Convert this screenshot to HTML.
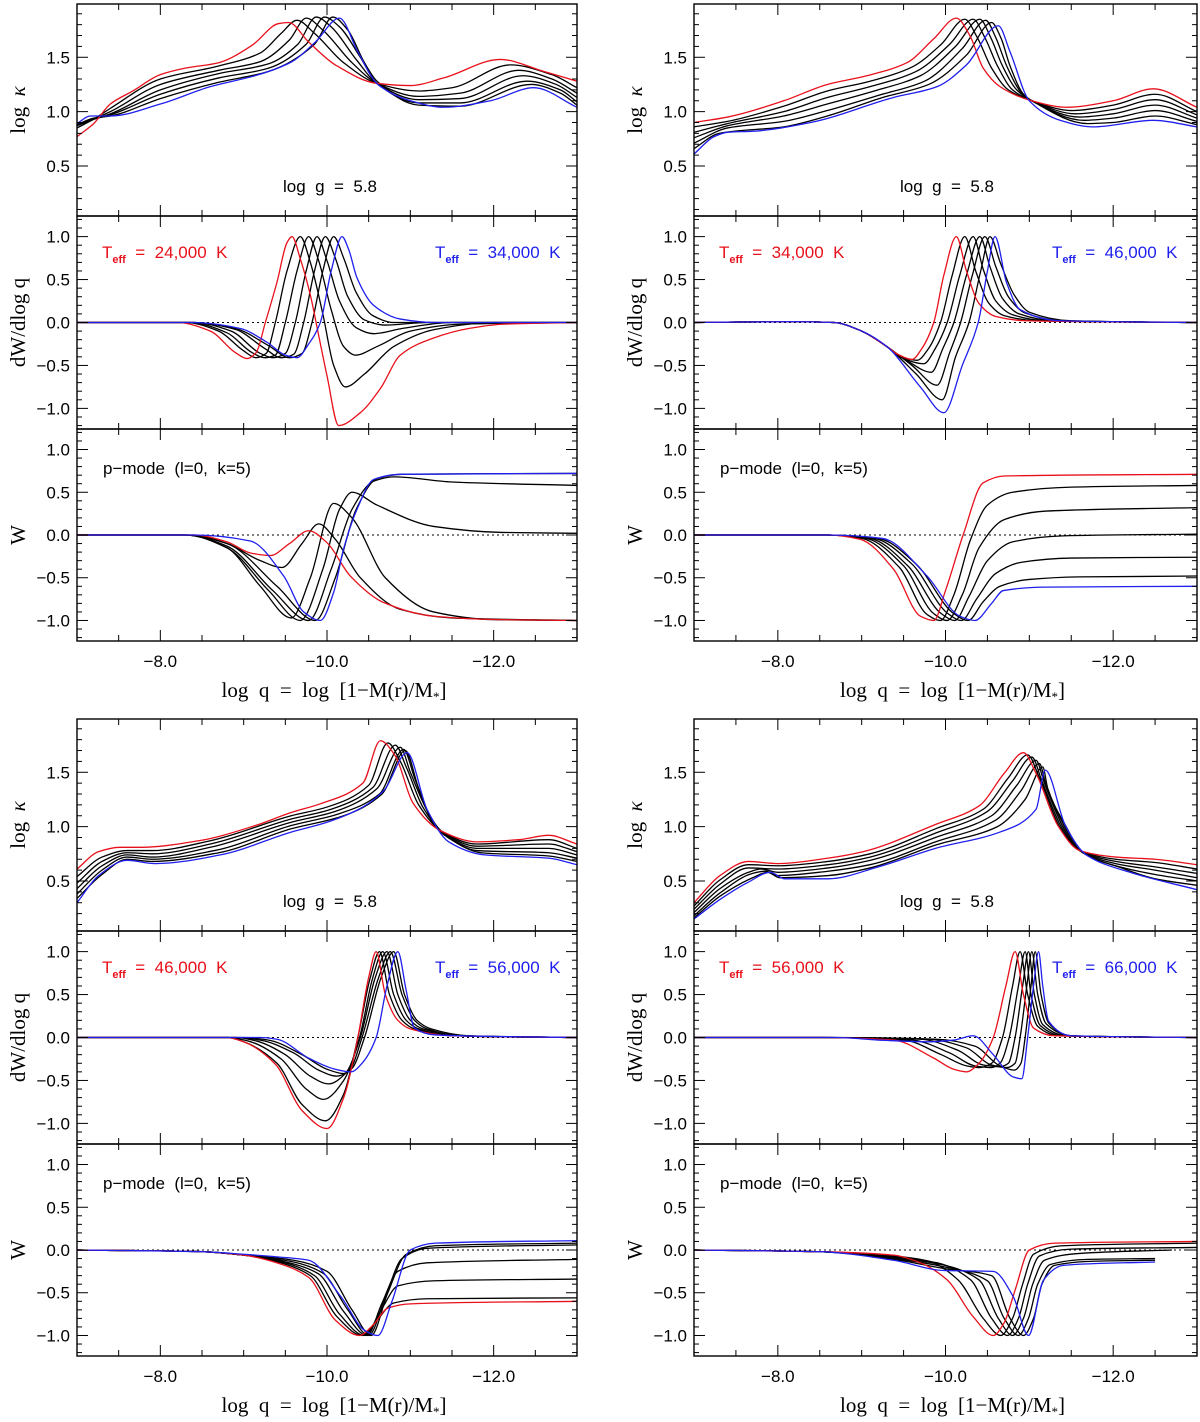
<!DOCTYPE html>
<html><head><meta charset="utf-8"><style>
html,body{margin:0;padding:0;background:#fff}
svg{display:block}
svg text{white-space:pre}
.tk{font-family:"Liberation Sans",sans-serif;font-size:17px;fill:#000}
.ttl{font-family:"Liberation Serif",serif;font-size:21px;fill:#000}
.ann{font-family:"Liberation Sans",sans-serif;font-size:17px}
</style></head><body>
<svg id="fig" width="1200" height="1422" viewBox="0 0 1200 1422" xmlns="http://www.w3.org/2000/svg"></svg>
<script>
// ---------- DATA (log q, value) pairs ----------
// Top-left quadrant (24,000 K -> 34,000 K)
const tlKappa_red=[[-7,.77],[-7.2,.89],[-7.4,1.07],[-7.67,1.19],[-8,1.34],[-8.3,1.4],[-8.7,1.45],[-9.1,1.61],[-9.42,1.81],[-9.54,1.82],[-9.78,1.64],[-10.1,1.43],[-10.6,1.26],[-11,1.24],[-11.4,1.31],[-12.08,1.48],[-12.6,1.37],[-13,1.28]];
const tlKappa_k1=[[-7,.85],[-7.2,.93],[-7.4,1.03],[-8,1.30],[-8.7,1.42],[-9.2,1.54],[-9.45,1.72],[-9.64,1.84],[-9.85,1.72],[-10.2,1.45],[-10.6,1.26],[-11.1,1.19],[-11.5,1.22],[-12.2,1.43],[-12.7,1.34],[-13,1.22]];
const tlKappa_k2=[[-7,.87],[-7.2,.93],[-7.4,1.0],[-8,1.25],[-8.7,1.38],[-9.2,1.46],[-9.55,1.66],[-9.75,1.86],[-9.95,1.75],[-10.3,1.45],[-10.6,1.26],[-11.1,1.14],[-11.6,1.17],[-12.3,1.38],[-12.7,1.3],[-13,1.17]];
const tlKappa_k3=[[-7,.88],[-7.2,.93],[-7.4,.98],[-8,1.2],[-8.7,1.35],[-9.3,1.44],[-9.65,1.62],[-9.87,1.87],[-10.05,1.78],[-10.35,1.48],[-10.6,1.26],[-11.1,1.11],[-11.6,1.12],[-12.35,1.33],[-12.75,1.25],[-13,1.13]];
const tlKappa_k4=[[-7,.88],[-7.2,.93],[-7.4,.97],[-8,1.16],[-8.7,1.31],[-9.3,1.4],[-9.75,1.62],[-9.97,1.87],[-10.15,1.78],[-10.4,1.5],[-10.6,1.26],[-11.1,1.08],[-11.6,1.08],[-12.4,1.28],[-12.8,1.2],[-13,1.09]];
const tlKappa_k5=[[-7,.88],[-7.2,.94],[-7.4,.96],[-8,1.12],[-8.7,1.27],[-9.3,1.37],[-9.85,1.62],[-10.07,1.87],[-10.25,1.75],[-10.45,1.45],[-10.6,1.28],[-11.1,1.06],[-11.6,1.05],[-12.45,1.25],[-12.8,1.17],[-13,1.06]];
const tlKappa_blue=[[-7,.89],[-7.16,.96],[-7.4,.96],[-8,1.07],[-8.6,1.23],[-9.18,1.34],[-9.58,1.46],[-9.86,1.64],[-10.15,1.86],[-10.37,1.55],[-10.61,1.25],[-11,1.1],[-11.4,1.04],[-11.96,1.1],[-12.48,1.22],[-13,1.04]];

const tlDW_red=[[-7,0],[-8.2,0],[-8.6,-.1],[-8.9,-.35],[-9.04,-.42],[-9.15,-.35],[-9.26,0],[-9.4,.47],[-9.52,.93],[-9.58,1.0],[-9.68,.74],[-9.8,.32],[-9.9,-.15],[-10.0,-.62],[-10.14,-1.2],[-10.4,-1.05],[-10.64,-.77],[-10.88,-.38],[-11.28,-.18],[-11.7,-.07],[-12.1,-.02],[-13,0]];
const tlDW_k1=[[-7,0],[-8.3,0],[-8.7,-.1],[-9.0,-.33],[-9.15,-.41],[-9.27,-.36],[-9.38,0],[-9.52,.6],[-9.68,1.0],[-9.8,.7],[-9.95,.1],[-10.08,-.5],[-10.22,-.75],[-10.45,-.6],[-10.8,-.28],[-11.3,-.08],[-12,0],[-13,0]];
const tlDW_k2=[[-7,0],[-8.35,0],[-8.8,-.12],[-9.1,-.35],[-9.25,-.41],[-9.38,-.38],[-9.5,0],[-9.64,.6],[-9.78,1.0],[-9.9,.72],[-10.05,.15],[-10.2,-.28],[-10.34,-.38],[-10.6,-.28],[-11,-.1],[-11.6,-.02],[-13,0]];
const tlDW_k3=[[-7,0],[-8.4,0],[-8.85,-.1],[-9.2,-.36],[-9.35,-.41],[-9.5,-.36],[-9.62,0],[-9.75,.6],[-9.88,1.0],[-10.0,.72],[-10.15,.25],[-10.35,-.06],[-10.56,-.13],[-10.9,-.07],[-11.5,0],[-13,0]];
const tlDW_k4=[[-7,0],[-8.4,0],[-8.9,-.08],[-9.25,-.3],[-9.45,-.41],[-9.6,-.37],[-9.72,0],[-9.85,.6],[-9.98,1.0],[-10.1,.75],[-10.25,.3],[-10.45,.03],[-10.7,-.03],[-11.2,0],[-13,0]];
const tlDW_k5=[[-7,0],[-8.4,0],[-8.9,-.07],[-9.3,-.27],[-9.55,-.41],[-9.7,-.36],[-9.82,0],[-9.95,.6],[-10.08,1.0],[-10.2,.75],[-10.35,.35],[-10.55,.08],[-10.8,0],[-13,0]];
const tlDW_blue=[[-7,0],[-8.4,0],[-8.96,-.07],[-9.28,-.23],[-9.5,-.38],[-9.64,-.41],[-9.78,-.25],[-9.92,0],[-10.05,.6],[-10.18,1.0],[-10.26,.85],[-10.36,.52],[-10.56,.2],[-10.88,.04],[-11.3,0],[-13,0]];

const tlW_red=[[-7,0],[-8.4,0],[-8.8,-.08],[-9.08,-.21],[-9.32,-.24],[-9.55,-.1],[-9.78,.05],[-10.0,-.09],[-10.28,-.48],[-10.68,-.79],[-11.28,-.95],[-12.08,-.99],[-13,-1.0]];
const tlW_k1=[[-7,0],[-8.4,0],[-8.8,-.1],[-9.2,-.3],[-9.46,-.38],[-9.7,-.1],[-9.9,.13],[-10.1,-.05],[-10.4,-.5],[-10.88,-.87],[-11.5,-.97],[-13,-1.0]];
const tlW_k2=[[-7,0],[-8.3,0],[-8.8,-.15],[-9.2,-.6],[-9.57,-.97],[-9.8,-.5],[-10.08,.37],[-10.3,.2],[-10.7,-.5],[-11.28,-.9],[-12,-.99],[-13,-1.0]];
const tlW_k3=[[-7,0],[-8.3,0],[-8.8,-.15],[-9.3,-.65],[-9.68,-1.0],[-9.95,-.4],[-10.15,.3],[-10.3,.5],[-10.6,.35],[-11.28,.1],[-12.1,.03],[-13,.02]];
const tlW_k4=[[-7,0],[-8.3,0],[-8.8,-.13],[-9.35,-.65],[-9.78,-1.0],[-10.05,-.4],[-10.3,.3],[-10.56,.63],[-10.8,.68],[-11.5,.62],[-13,.58]];
const tlW_k5=[[-7,0],[-8.3,0],[-8.8,-.1],[-9.4,-.6],[-9.86,-1.0],[-10.1,-.5],[-10.35,.3],[-10.6,.66],[-10.9,.71],[-13,.72]];
const tlW_blue=[[-7,0],[-8.4,0],[-9.08,-.07],[-9.48,-.48],[-9.72,-.9],[-9.92,-1.0],[-10.08,-.67],[-10.2,-.16],[-10.36,.3],[-10.56,.65],[-10.88,.71],[-13,.72]];

// Top-right quadrant (34,000 K -> 46,000 K)
const trKappa_red=[[-7,.90],[-7.4,.95],[-8.07,1.1],[-8.59,1.25],[-9.06,1.33],[-9.54,1.45],[-9.86,1.67],[-10.13,1.86],[-10.29,1.7],[-10.45,1.4],[-10.65,1.23],[-11.03,1.1],[-11.44,1.04],[-12.0,1.1],[-12.48,1.21],[-13,1.04]];
const trKappa_k1=[[-7,.86],[-7.4,.91],[-8.07,1.05],[-8.59,1.19],[-9.1,1.28],[-9.6,1.41],[-9.95,1.62],[-10.23,1.85],[-10.38,1.68],[-10.55,1.4],[-10.75,1.2],[-11.03,1.1],[-11.5,1.01],[-12.0,1.06],[-12.5,1.16],[-13,1.0]];
const trKappa_k2=[[-7,.81],[-7.4,.89],[-8.07,1.0],[-8.59,1.13],[-9.1,1.23],[-9.65,1.37],[-10.05,1.62],[-10.33,1.85],[-10.47,1.68],[-10.62,1.42],[-10.8,1.2],[-11.03,1.1],[-11.55,.98],[-12.0,1.02],[-12.5,1.11],[-13,.97]];
const trKappa_k3=[[-7,.76],[-7.4,.87],[-8.07,.96],[-8.59,1.07],[-9.15,1.19],[-9.7,1.33],[-10.12,1.6],[-10.41,1.85],[-10.54,1.68],[-10.68,1.42],[-10.85,1.2],[-11.03,1.1],[-11.6,.95],[-12.0,.98],[-12.5,1.06],[-13,.94]];
const trKappa_k4=[[-7,.71],[-7.4,.85],[-8.07,.91],[-8.59,1.01],[-9.2,1.15],[-9.75,1.28],[-10.2,1.58],[-10.48,1.84],[-10.6,1.68],[-10.73,1.42],[-10.9,1.18],[-11.03,1.1],[-11.65,.92],[-12.0,.94],[-12.5,1.01],[-13,.91]];
const trKappa_k5=[[-7,.66],[-7.3,.8],[-8.07,.86],[-8.59,.96],[-9.25,1.13],[-9.8,1.25],[-10.25,1.52],[-10.55,1.82],[-10.66,1.68],[-10.77,1.42],[-10.93,1.16],[-11.03,1.1],[-11.7,.89],[-12.0,.9],[-12.5,.96],[-13,.88]];
const trKappa_blue=[[-7,.61],[-7.24,.77],[-7.4,.81],[-7.71,.82],[-8.39,.9],[-9.38,1.13],[-9.9,1.23],[-10.25,1.43],[-10.63,1.79],[-10.77,1.55],[-11.0,1.1],[-11.37,.92],[-11.76,.86],[-12.48,.92],[-13,.86]];

const trDW_red=[[-7,0],[-8.2,.01],[-8.67,0],[-9.0,-.1],[-9.3,-.28],[-9.45,-.38],[-9.6,-.43],[-9.72,-.3],[-9.86,0],[-9.98,.55],[-10.13,1.0],[-10.25,.6],[-10.4,.22],[-10.6,.07],[-10.97,.02],[-13,0]];
const trDW_k1=[[-7,0],[-8.2,.01],[-8.67,0],[-9.0,-.1],[-9.3,-.28],[-9.45,-.39],[-9.66,-.44],[-9.8,-.3],[-9.94,0],[-10.08,.55],[-10.23,1.0],[-10.36,.6],[-10.52,.22],[-10.7,.08],[-11.1,.02],[-13,0]];
const trDW_k2=[[-7,0],[-8.2,.01],[-8.67,0],[-9.0,-.1],[-9.3,-.28],[-9.5,-.42],[-9.74,-.48],[-9.88,-.3],[-10.02,0],[-10.17,.55],[-10.33,1.0],[-10.45,.62],[-10.6,.25],[-10.8,.09],[-11.2,.02],[-13,0]];
const trDW_k3=[[-7,0],[-8.2,.01],[-8.67,0],[-9.0,-.1],[-9.3,-.28],[-9.55,-.45],[-9.83,-.58],[-9.97,-.3],[-10.1,0],[-10.25,.55],[-10.41,1.0],[-10.53,.65],[-10.68,.28],[-10.88,.1],[-11.3,.02],[-13,0]];
const trDW_k4=[[-7,0],[-8.2,.01],[-8.67,0],[-9.0,-.1],[-9.3,-.28],[-9.6,-.5],[-9.9,-.73],[-10.05,-.35],[-10.18,0],[-10.32,.55],[-10.47,1.0],[-10.6,.65],[-10.75,.3],[-10.95,.11],[-11.4,.02],[-13,0]];
const trDW_k5=[[-7,0],[-8.2,.01],[-8.67,0],[-9.0,-.1],[-9.3,-.28],[-9.65,-.6],[-9.96,-.9],[-10.12,-.4],[-10.28,0],[-10.42,.6],[-10.53,1.0],[-10.66,.68],[-10.82,.32],[-11.0,.12],[-11.5,.02],[-13,0]];
const trDW_blue=[[-7,0],[-8.2,.01],[-8.67,0],[-9.0,-.1],[-9.3,-.28],[-9.7,-.75],[-9.98,-1.05],[-10.2,-.5],[-10.39,0],[-10.5,.6],[-10.59,1.0],[-10.73,.46],[-10.89,.15],[-11.37,.02],[-13,0]];

const trW_red=[[-7,0],[-8.6,0],[-8.98,-.05],[-9.38,-.4],[-9.7,-.95],[-9.86,-1.0],[-10.0,-.65],[-10.21,0],[-10.45,.61],[-10.7,.69],[-13,.71]];
const trW_k1=[[-7,0],[-8.6,0],[-9.0,-.04],[-9.45,-.38],[-9.78,-.93],[-9.94,-1.0],[-10.1,-.7],[-10.3,-.05],[-10.5,.35],[-10.8,.5],[-11.5,.56],[-13,.58]];
const trW_k2=[[-7,0],[-8.6,0],[-9.05,-.04],[-9.5,-.36],[-9.86,-.92],[-10.02,-1.0],[-10.2,-.7],[-10.4,-.15],[-10.7,.18],[-11.2,.28],[-13,.32]];
const trW_k3=[[-7,0],[-8.6,0],[-9.1,-.04],[-9.55,-.36],[-9.95,-.92],[-10.11,-1.0],[-10.28,-.72],[-10.5,-.3],[-10.8,-.08],[-11.4,-.01],[-13,.01]];
const trW_k4=[[-7,0],[-8.6,0],[-9.15,-.04],[-9.6,-.34],[-10.03,-.92],[-10.19,-1.0],[-10.37,-.75],[-10.6,-.45],[-10.9,-.32],[-11.5,-.27],[-13,-.26]];
const trW_k5=[[-7,0],[-8.6,0],[-9.2,-.04],[-9.65,-.34],[-10.1,-.92],[-10.27,-1.0],[-10.45,-.78],[-10.65,-.6],[-11.0,-.52],[-11.6,-.49],[-13,-.48]];
const trW_blue=[[-7,0],[-8.6,0],[-9.25,-.04],[-9.78,-.48],[-10.17,-.95],[-10.35,-1.0],[-10.55,-.8],[-10.69,-.65],[-11.2,-.61],[-13,-.6]];

// Bottom-left quadrant (46,000 K -> 56,000 K)
const blKappa_red=[[-7,.61],[-7.26,.77],[-7.51,.81],[-7.77,.81],[-8.46,.87],[-9.14,1.01],[-9.57,1.13],[-9.92,1.21],[-10.43,1.40],[-10.64,1.79],[-10.82,1.65],[-11.03,1.22],[-11.37,.96],[-11.8,.86],[-12.3,.88],[-12.66,.92],[-13,.84]];
const blKappa_k1=[[-7,.54],[-7.3,.72],[-7.6,.78],[-7.9,.78],[-8.6,.87],[-9.57,1.10],[-10.0,1.18],[-10.5,1.38],[-10.73,1.77],[-10.88,1.6],[-11.1,1.2],[-11.37,.96],[-11.8,.84],[-12.66,.88],[-13,.80]];
const blKappa_k2=[[-7,.48],[-7.3,.68],[-7.6,.76],[-7.9,.75],[-8.6,.84],[-9.57,1.07],[-10.05,1.16],[-10.55,1.36],[-10.82,1.75],[-10.95,1.55],[-11.15,1.18],[-11.37,.96],[-11.8,.82],[-12.66,.84],[-13,.77]];
const blKappa_k3=[[-7,.43],[-7.3,.64],[-7.6,.74],[-7.9,.72],[-8.6,.81],[-9.57,1.04],[-10.1,1.14],[-10.6,1.35],[-10.88,1.73],[-11.0,1.5],[-11.2,1.15],[-11.37,.96],[-11.8,.80],[-12.66,.80],[-13,.74]];
const blKappa_k4=[[-7,.38],[-7.3,.6],[-7.6,.72],[-7.9,.7],[-8.65,.78],[-9.57,1.01],[-10.15,1.12],[-10.63,1.3],[-10.92,1.71],[-11.05,1.45],[-11.22,1.12],[-11.37,.96],[-11.8,.78],[-12.66,.76],[-13,.71]];
const blKappa_k5=[[-7,.34],[-7.3,.56],[-7.6,.70],[-7.9,.68],[-8.7,.76],[-9.57,.98],[-10.2,1.1],[-10.66,1.3],[-10.94,1.70],[-11.1,1.35],[-11.3,1.0],[-11.45,.9],[-11.85,.76],[-12.66,.73],[-13,.68]];
const blKappa_blue=[[-7,.30],[-7.26,.55],[-7.6,.69],[-7.94,.66],[-8.72,.74],[-9.57,.95],[-10,1.04],[-10.43,1.18],[-10.69,1.34],[-10.96,1.68],[-11.2,1.16],[-11.46,.86],[-11.89,.74],[-12.66,.71],[-13,.65]];

const blDW_red=[[-7,0],[-8.8,0],[-9.0,-.05],[-9.38,-.31],[-9.7,-.85],[-10.0,-1.06],[-10.2,-.7],[-10.37,0],[-10.5,.7],[-10.59,1.0],[-10.7,.5],[-10.85,.2],[-11.0,.1],[-11.5,.02],[-13,0]];
const blDW_k1=[[-7,0],[-8.8,0],[-9.0,-.05],[-9.4,-.3],[-9.7,-.78],[-9.98,-.97],[-10.2,-.66],[-10.37,0],[-10.52,.7],[-10.63,1.0],[-10.75,.5],[-10.9,.2],[-11.05,.1],[-11.5,.02],[-13,0]];
const blDW_k2=[[-7,0],[-8.8,0],[-9.05,-.04],[-9.45,-.25],[-9.75,-.6],[-9.96,-.72],[-10.2,-.5],[-10.39,0],[-10.55,.7],[-10.67,1.0],[-10.8,.5],[-10.95,.2],[-11.1,.1],[-11.5,.02],[-13,0]];
const blDW_k3=[[-7,0],[-8.9,0],[-9.15,-.04],[-9.5,-.2],[-9.8,-.45],[-10.02,-.54],[-10.22,-.42],[-10.4,0],[-10.58,.7],[-10.72,1.0],[-10.85,.5],[-11.0,.2],[-11.15,.1],[-11.6,.02],[-13,0]];
const blDW_k4=[[-7,0],[-8.9,0],[-9.2,-.03],[-9.6,-.18],[-9.9,-.38],[-10.12,-.45],[-10.27,-.38],[-10.42,0],[-10.62,.7],[-10.76,1.0],[-10.9,.5],[-11.05,.2],[-11.2,.1],[-11.6,.02],[-13,0]];
const blDW_k5=[[-7,0],[-9.0,0],[-9.3,-.03],[-9.7,-.2],[-10.0,-.37],[-10.2,-.42],[-10.3,-.36],[-10.45,0],[-10.65,.7],[-10.8,1.0],[-10.93,.5],[-11.08,.2],[-11.25,.1],[-11.7,.02],[-13,0]];
const blDW_blue=[[-7,0],[-9.2,0],[-9.4,-.02],[-9.78,-.24],[-10.1,-.37],[-10.29,-.40],[-10.42,-.3],[-10.59,0],[-10.72,.6],[-10.85,1.0],[-10.95,.55],[-11.05,.11],[-11.3,.03],[-13,0]];

const blW_red=[[-7,0],[-8.5,-.02],[-9.0,-.06],[-9.4,-.15],[-9.78,-.32],[-10.1,-.82],[-10.39,-1.0],[-10.55,-.88],[-10.73,-.68],[-11,-.63],[-13,-.60]];
const blW_k1=[[-7,0],[-8.5,-.02],[-9.0,-.06],[-9.45,-.15],[-9.8,-.3],[-10.12,-.78],[-10.42,-1.0],[-10.6,-.82],[-10.8,-.62],[-11.2,-.57],[-13,-.56]];
const blW_k2=[[-7,0],[-8.5,-.02],[-9.0,-.06],[-9.5,-.15],[-9.85,-.3],[-10.15,-.75],[-10.45,-1.0],[-10.65,-.7],[-10.85,-.42],[-11.3,-.36],[-13,-.34]];
const blW_k3=[[-7,0],[-8.5,-.02],[-9.0,-.06],[-9.55,-.15],[-9.9,-.28],[-10.2,-.72],[-10.48,-1.0],[-10.66,-.62],[-10.85,-.25],[-11.2,-.15],[-13,-.11]];
const blW_k4=[[-7,0],[-8.5,-.02],[-9.0,-.06],[-9.6,-.14],[-9.95,-.27],[-10.25,-.7],[-10.5,-1.0],[-10.7,-.55],[-10.9,-.1],[-11.2,.02],[-13,.06]];
const blW_k5=[[-7,0],[-8.5,-.02],[-9.0,-.06],[-9.6,-.12],[-10.0,-.25],[-10.3,-.7],[-10.53,-1.0],[-10.73,-.5],[-10.95,-.05],[-11.3,.05],[-13,.08]];
const blW_blue=[[-7,0],[-8.5,-.02],[-9.0,-.05],[-9.4,-.08],[-9.78,-.12],[-10.17,-.55],[-10.45,-.94],[-10.61,-1.0],[-10.78,-.6],[-11.0,0],[-11.3,.08],[-13,.11]];

// Bottom-right quadrant (56,000 K -> 66,000 K)
const brKappa_red=[[-7,.30],[-7.31,.55],[-7.65,.68],[-8.0,.66],[-8.6,.71],[-9.02,.77],[-9.88,1.02],[-10.4,1.19],[-10.7,1.49],[-10.93,1.68],[-11.08,1.49],[-11.34,1.01],[-11.6,.78],[-12.03,.72],[-12.5,.70],[-13,.65]];
const brKappa_k1=[[-7,.27],[-7.31,.51],[-7.65,.65],[-8.0,.64],[-8.6,.68],[-9.1,.75],[-9.88,.98],[-10.45,1.16],[-10.75,1.45],[-10.98,1.66],[-11.12,1.45],[-11.36,1.0],[-11.6,.78],[-12.03,.70],[-12.5,.67],[-13,.61]];
const brKappa_k2=[[-7,.24],[-7.31,.47],[-7.65,.62],[-8.0,.61],[-8.6,.65],[-9.1,.72],[-9.88,.94],[-10.5,1.14],[-10.8,1.42],[-11.03,1.64],[-11.15,1.42],[-11.38,1.0],[-11.6,.78],[-12.03,.68],[-12.5,.63],[-13,.57]];
const brKappa_k3=[[-7,.21],[-7.31,.43],[-7.65,.58],[-7.8,.61],[-8.0,.58],[-8.6,.62],[-9.1,.69],[-9.88,.90],[-10.55,1.1],[-10.85,1.38],[-11.08,1.61],[-11.18,1.4],[-11.4,1.0],[-11.6,.78],[-12.03,.66],[-12.5,.6],[-13,.53]];
const brKappa_k4=[[-7,.18],[-7.31,.39],[-7.7,.57],[-7.85,.59],[-8.0,.55],[-8.6,.59],[-9.1,.65],[-9.88,.86],[-10.6,1.06],[-10.9,1.33],[-11.12,1.58],[-11.2,1.38],[-11.42,1.0],[-11.6,.78],[-12.03,.64],[-12.5,.56],[-13,.50]];
const brKappa_k5=[[-7,.16],[-7.31,.36],[-7.7,.53],[-7.88,.58],[-8.02,.53],[-8.6,.55],[-9.1,.62],[-9.88,.83],[-10.62,1.0],[-10.95,1.25],[-11.16,1.55],[-11.22,1.35],[-11.44,1.0],[-11.62,.77],[-12.1,.62],[-12.5,.52],[-13,.46]];
const brKappa_blue=[[-7,.15],[-7.31,.33],[-7.65,.49],[-7.91,.58],[-8.08,.52],[-8.6,.52],[-9.2,.63],[-9.88,.8],[-10.65,.95],[-11.08,1.16],[-11.19,1.52],[-11.43,1.01],[-11.68,.74],[-12.2,.58],[-13,.42]];

const brDW_red=[[-7,0],[-8.5,0],[-9.38,-.03],[-9.86,-.24],[-10.1,-.37],[-10.25,-.40],[-10.4,-.3],[-10.57,0],[-10.72,.6],[-10.83,1.0],[-10.93,.5],[-11.05,.11],[-11.3,.02],[-13,0]];
const brDW_k1=[[-7,0],[-8.5,0],[-9.5,-.03],[-9.95,-.2],[-10.25,-.33],[-10.4,-.35],[-10.55,-.3],[-10.68,0],[-10.8,.6],[-10.89,1.0],[-10.98,.5],[-11.1,.13],[-11.35,.02],[-13,0]];
const brDW_k2=[[-7,0],[-8.5,0],[-9.6,-.03],[-10.05,-.18],[-10.35,-.33],[-10.55,-.35],[-10.65,-.3],[-10.76,0],[-10.87,.6],[-10.95,1.0],[-11.02,.5],[-11.13,.14],[-11.4,.02],[-13,0]];
const brDW_k3=[[-7,0],[-8.5,0],[-9.7,-.02],[-10.15,-.15],[-10.45,-.32],[-10.65,-.34],[-10.75,-.3],[-10.83,0],[-10.92,.6],[-10.99,1.0],[-11.06,.5],[-11.16,.15],[-11.45,.02],[-13,0]];
const brDW_k4=[[-7,0],[-8.5,0],[-9.8,-.02],[-10.25,-.12],[-10.55,-.32],[-10.73,-.35],[-10.83,-.3],[-10.89,0],[-10.97,.6],[-11.03,1.0],[-11.1,.5],[-11.2,.16],[-11.5,.02],[-13,0]];
const brDW_k5=[[-7,0],[-8.5,0],[-9.9,-.02],[-10.35,-.1],[-10.65,-.33],[-10.82,-.38],[-10.9,-.3],[-10.95,0],[-11.02,.6],[-11.07,1.0],[-11.14,.5],[-11.23,.17],[-11.5,.02],[-13,0]];
const brDW_blue=[[-7,0],[-8.7,0],[-9.2,-.03],[-9.8,-.05],[-10.1,-.03],[-10.33,.02],[-10.57,-.2],[-10.81,-.46],[-10.91,-.48],[-10.98,0],[-11.05,.6],[-11.11,1.0],[-11.16,.6],[-11.23,.19],[-11.5,.02],[-13,0]];

const brW_red=[[-7,0],[-8.5,-.02],[-9.38,-.06],[-9.7,-.15],[-10.02,-.35],[-10.33,-.78],[-10.57,-1.0],[-10.7,-.85],[-10.83,-.47],[-11.0,0],[-11.3,.08],[-13,.10]];
const brW_k1=[[-7,0],[-8.5,-.02],[-9.38,-.07],[-9.8,-.13],[-10.15,-.35],[-10.45,-.8],[-10.66,-1.0],[-10.8,-.8],[-10.92,-.4],[-11.05,-.05],[-11.4,.05],[-13,.08]];
const brW_k2=[[-7,0],[-8.5,-.02],[-9.38,-.08],[-9.9,-.15],[-10.3,-.35],[-10.55,-.8],[-10.74,-1.0],[-10.87,-.8],[-10.98,-.4],[-11.12,-.07],[-11.5,.01],[-13,.03]];
const brW_k3=[[-7,0],[-8.5,-.02],[-9.38,-.09],[-9.95,-.17],[-10.4,-.35],[-10.63,-.8],[-10.8,-1.0],[-10.93,-.8],[-11.04,-.4],[-11.18,-.12],[-11.6,-.04],[-12.7,0]];
const brW_k4=[[-7,0],[-8.5,-.02],[-9.38,-.1],[-10.0,-.2],[-10.5,-.36],[-10.7,-.8],[-10.87,-1.0],[-10.99,-.8],[-11.1,-.4],[-11.25,-.17],[-11.7,-.11],[-12.5,-.1]];
const brW_k5=[[-7,0],[-8.5,-.02],[-9.38,-.11],[-10.0,-.22],[-10.55,-.3],[-10.77,-.8],[-10.93,-1.0],[-11.05,-.8],[-11.15,-.4],[-11.3,-.18],[-11.8,-.13],[-12.5,-.12]];
const brW_blue=[[-7,0],[-8.5,-.02],[-9.38,-.12],[-9.98,-.24],[-10.57,-.25],[-10.81,-.55],[-10.99,-1.0],[-11.17,-.35],[-11.4,-.18],[-12.5,-.14]];

// tick label arrays
const xTickLabels=["−8.0","−10.0","−12.0"];
const xTickValues=[-8,-10,-12];
const kappaTickValues=[0.5,1.0,1.5];
const dwTickValues=[-1.0,-0.5,0.0,0.5,1.0];
const teffRed=["24,000","34,000","46,000","56,000"];
const teffBlue=["34,000","46,000","56,000","66,000"];

// ---------- RENDER ----------
const NS="http://www.w3.org/2000/svg";
const svg=document.getElementById('fig');
function mk(tag,attrs,parent){const e=document.createElementNS(NS,tag);for(const k in attrs)e.setAttribute(k,attrs[k]);(parent||svg).appendChild(e);return e;}
const quads=[
 {id:'tl',x0:77,x1:577,dy:0,curves:[[tlKappa_red,tlKappa_k1,tlKappa_k2,tlKappa_k3,tlKappa_k4,tlKappa_k5,tlKappa_blue],[tlDW_red,tlDW_k1,tlDW_k2,tlDW_k3,tlDW_k4,tlDW_k5,tlDW_blue],[tlW_red,tlW_k1,tlW_k2,tlW_k3,tlW_k4,tlW_k5,tlW_blue]]},
 {id:'tr',x0:694,x1:1197,dy:0,curves:[[trKappa_red,trKappa_k1,trKappa_k2,trKappa_k3,trKappa_k4,trKappa_k5,trKappa_blue],[trDW_red,trDW_k1,trDW_k2,trDW_k3,trDW_k4,trDW_k5,trDW_blue],[trW_red,trW_k1,trW_k2,trW_k3,trW_k4,trW_k5,trW_blue]]},
 {id:'bl',x0:77,x1:577,dy:715,curves:[[blKappa_red,blKappa_k1,blKappa_k2,blKappa_k3,blKappa_k4,blKappa_k5,blKappa_blue],[blDW_red,blDW_k1,blDW_k2,blDW_k3,blDW_k4,blDW_k5,blDW_blue],[blW_red,blW_k1,blW_k2,blW_k3,blW_k4,blW_k5,blW_blue]]},
 {id:'br',x0:694,x1:1197,dy:715,curves:[[brKappa_red,brKappa_k1,brKappa_k2,brKappa_k3,brKappa_k4,brKappa_k5,brKappa_blue],[brDW_red,brDW_k1,brDW_k2,brDW_k3,brDW_k4,brDW_k5,brDW_blue],[brW_red,brW_k1,brW_k2,brW_k3,brW_k4,brW_k5,brW_blue]]}
];
const panels=[{t:4,b:216,lo:0.04,hi:1.99,kind:'kappa'},{t:216,b:429,lo:-1.24,hi:1.24,kind:'dw'},{t:429,b:641,lo:-1.24,hi:1.24,kind:'w'}];
const colors=['#e8111b','#000','#000','#000','#000','#000','#1f1fee'];
const order=[1,2,3,4,5,0,6];

function pathFrom(pts){
  const n=pts.length;
  const dx=[],dy=[],m=[];
  for(let i=0;i<n-1;i++){dx.push(pts[i+1][0]-pts[i][0]);dy.push(pts[i+1][1]-pts[i][1]);m.push(dy[i]/dx[i]);}
  const t=new Array(n);
  t[0]=m[0];t[n-1]=m[n-2];
  for(let i=1;i<n-1;i++){
    if(m[i-1]*m[i]<=0)t[i]=0;
    else{const w1=2*dx[i]+dx[i-1],w2=dx[i]+2*dx[i-1];t[i]=(w1+w2)/(w1/m[i-1]+w2/m[i]);}
  }
  let d=`M${pts[0][0].toFixed(2)},${pts[0][1].toFixed(2)}`;
  for(let i=0;i<n-1;i++){
    const h=dx[i]/3;
    d+=`C${(pts[i][0]+h).toFixed(2)},${(pts[i][1]+t[i]*h).toFixed(2)} ${(pts[i+1][0]-h).toFixed(2)},${(pts[i+1][1]-t[i+1]*h).toFixed(2)} ${pts[i+1][0].toFixed(2)},${pts[i+1][1].toFixed(2)}`;
  }
  return d;
}

quads.forEach((Q,qi)=>{
  const g=mk('g',{});
  
  
  const w=Q.x1-Q.x0;
  const sx=q=>Q.x0+(-7-q)/6*w;
  panels.forEach((P,pi)=>{
    const top=P.t+Q.dy,bot=P.b+Q.dy;
    const sy=v=>bot-(v-P.lo)/(P.hi-P.lo)*(bot-top);
    const pg=mk('g',{},g);
    
    
    const cid='clip-'+Q.id+'-'+pi;
    const cp=mk('clipPath',{id:cid},pg);
    mk('rect',{x:Q.x0,y:top,width:w,height:bot-top},cp);
    if(P.kind!=='kappa'){
      const zl=mk('line',{x1:Q.x0,x2:Q.x1,y1:sy(0),y2:sy(0),stroke:'#000','stroke-width':0.9,'stroke-dasharray':'2,3'},pg);
      
      
    }
    const cg=mk('g',{'clip-path':`url(#${cid})`},pg);
    order.forEach(ci=>{
      const pts=Q.curves[pi][ci].map(p=>[sx(p[0]),sy(p[1])]);
      const pe=mk('path',{d:pathFrom(pts),fill:'none',stroke:colors[ci],'stroke-width':1.3,'stroke-linejoin':'round'},cg);
      
      
    });
    const fr=mk('rect',{x:Q.x0,y:top,width:w,height:bot-top,fill:'none',stroke:'#000','stroke-width':1.4},pg);
    
    
    for(let q=-7.5;q>=-12.51;q-=0.5){
      const X=sx(q),maj=Math.abs(q/2-Math.round(q/2))<1e-6;
      const L=maj?11:6;
      mk('line',{x1:X,x2:X,y1:bot,y2:bot-L,stroke:'#000','stroke-width':1},pg);
      mk('line',{x1:X,x2:X,y1:top,y2:top+L,stroke:'#000','stroke-width':1},pg);
    }
    const step=0.1;
    const start=Math.ceil(P.lo/step-1e-6),end=Math.floor(P.hi/step+1e-6);
    for(let k=start;k<=end;k++){
      const v=k*step,Y=sy(v);
      const maj=Math.abs(v*2-Math.round(v*2))<1e-6;
      const L=maj?11:5;
      mk('line',{x1:Q.x0,x2:Q.x0+L,y1:Y,y2:Y,stroke:'#000','stroke-width':1},pg);
      mk('line',{x1:Q.x1,x2:Q.x1-L,y1:Y,y2:Y,stroke:'#000','stroke-width':1},pg);
    }
    const tv=P.kind==='kappa'?kappaTickValues:dwTickValues;
    tv.forEach(v=>{
      const t=mk('text',{x:Q.x0-7,y:sy(v)+6,'text-anchor':'end',class:'tk'},pg);
      t.textContent=(v<0?'−':'')+Math.abs(v).toFixed(1);
      
      
    });
    const cy=(top+bot)/2,tx=Q.x0-52;
    const yt=mk('text',{x:tx,y:cy,'text-anchor':'middle',class:'ttl',transform:`rotate(-90 ${tx} ${cy})`},pg);
    
    
    if(P.kind==='kappa'){yt.textContent='log  ';const s=mk('tspan',{'font-style':'italic'},yt);s.textContent='κ';}
    else if(P.kind==='dw'){yt.textContent='dW/dlog q';}
    else{yt.textContent='W';}
    if(P.kind==='kappa'){
      const a=mk('text',{x:Q.x0+253,y:top+188,'text-anchor':'middle',class:'tk'},pg);
      a.textContent='log  g  =  5.8';
      
      
    }
    if(P.kind==='dw'){
      [[teffRed[qi],'#e8111b',Q.x0+25,'teff-red-label'],[teffBlue[qi],'#1f1fee',Q.x0+358,'teff-blue-label']].forEach(([val,col,x,nm])=>{
        const t=mk('text',{x:x,y:top+42,fill:col,class:'ann'},pg);
        
        
        const a=mk('tspan',{},t);a.textContent='T';
        const b=mk('tspan',{'font-size':'11px',dy:'5','font-weight':'bold'},t);b.textContent='eff';
        const c=mk('tspan',{dy:'-5'},t);c.textContent='  =  '+val+'  K';
      });
    }
    if(P.kind==='w'){
      const t=mk('text',{x:Q.x0+26,y:top+45,class:'ann',fill:'#000'},pg);
      t.textContent='p−mode  (l=0,  k=5)';
      
      
    }
  });
  const bot=641+Q.dy;
  xTickValues.forEach((v,i)=>{
    const t=mk('text',{x:sx(v),y:bot+26,'text-anchor':'middle',class:'tk'},g);
    t.textContent=xTickLabels[i];
    
    
  });
  const xt=mk('text',{x:(Q.x0+Q.x1)/2+7,y:bot+56,'text-anchor':'middle',class:'ttl'},g);
  
  
  const s1=mk('tspan',{},xt);s1.textContent='log  q  =  log  [1−M(r)/M';
  const s2=mk('tspan',{'font-size':'13px',dy:'4'},xt);s2.textContent='*';
  const s3=mk('tspan',{dy:'-4'},xt);s3.textContent=']';
});
</script>
</body></html>
